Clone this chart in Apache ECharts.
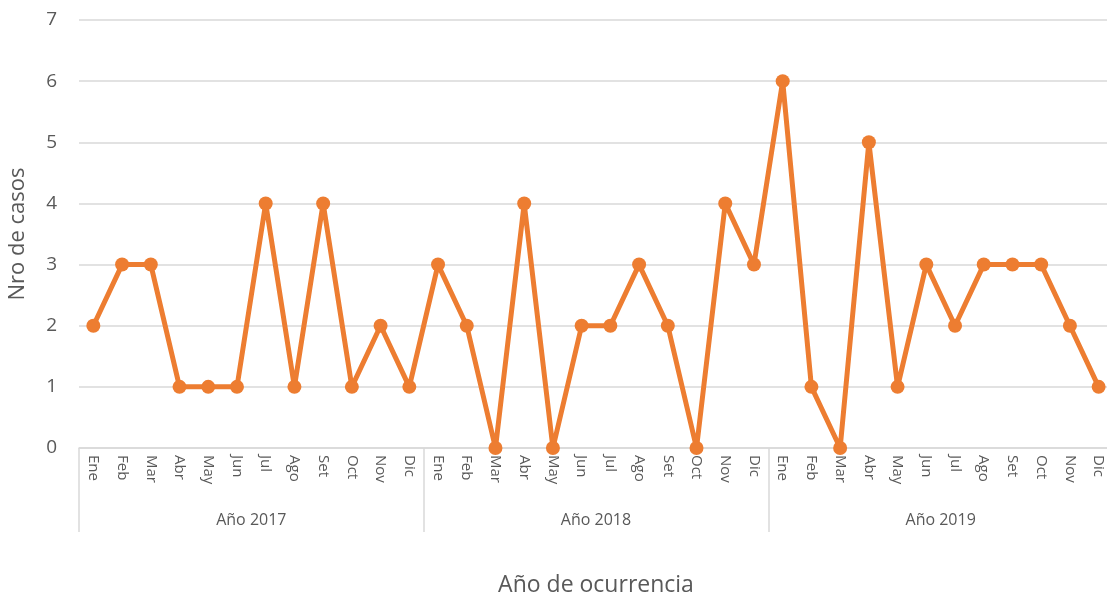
<!DOCTYPE html>
<html>
<head>
    <meta charset="utf-8"/>
    <title>Nro de casos</title>
    <script src="https://cdn.jsdelivr.net/npm/echarts@6/dist/echarts.min.js"></script>
    <style>
        html, body { margin: 0; padding: 0; background: #fff; }
    </style>
</head>
<body>
<div id="main" style="width: 1107px;height:599px;"></div>
<script type="text/javascript">
    // meses por año
    var meses = ['Ene', 'Feb', 'Mar', 'Abr', 'May', 'Jun', 'Jul', 'Ago', 'Set', 'Oct', 'Nov', 'Dic'];
    var anios = ['Año 2017', 'Año 2018', 'Año 2019'];
    var casos2017 = [2, 3, 3, 1, 1, 1, 4, 1, 4, 1, 2, 1];
    var casos2018 = [3, 2, 0, 4, 0, 2, 2, 3, 2, 0, 4, 3];
    var casos2019 = [6, 1, 0, 5, 1, 3, 2, 3, 3, 3, 2, 1];

    var categorias = [];
    anios.forEach(function () {
        meses.forEach(function (m) { categorias.push(m); });
    });
    var valores = casos2017.concat(casos2018, casos2019);

    var fuente = '"Open Sans", sans-serif';
    var gris = '#595959';

    var myChart = echarts.init(document.getElementById('main'));
    myChart.setOption({
        animation: false,
        grid: { left: 79, right: -6, top: 20, bottom: 151, outerBoundsMode: 'none', containLabel: false },
        xAxis: [
            {
                type: 'category',
                data: categorias,
                boundaryGap: true,
                axisLine: { lineStyle: { color: '#d9d9d9', width: 1.5 } },
                axisTick: { show: false },
                axisLabel: {
                    rotate: -90,
                    interval: 0,
                    margin: 7,
                    color: gris,
                    fontFamily: fuente,
                    fontSize: 15
                }
            },
            {
                type: 'category',
                data: anios,
                position: 'bottom',
                boundaryGap: true,
                axisLine: { show: false },
                axisTick: { show: true, length: 84, lineStyle: { color: '#d9d9d9', width: 1.5 } },
                axisLabel: {
                    margin: 64,
                    color: gris,
                    fontFamily: fuente,
                    fontSize: 16
                },
                name: 'Año de ocurrencia',
                nameLocation: 'middle',
                nameGap: 126,
                nameTextStyle: { color: gris, fontFamily: fuente, fontSize: 23 }
            }
        ],
        yAxis: {
            type: 'value',
            min: 0,
            max: 7,
            interval: 1,
            axisLine: { show: false },
            axisTick: { show: false },
            splitLine: { lineStyle: { color: '#d9d9d9', width: 1.5 } },
            axisLabel: { margin: 22, color: gris, fontFamily: fuente, fontSize: 19 },
            name: 'Nro de casos',
            nameLocation: 'middle',
            nameGap: 50,
            nameTextStyle: { color: gris, fontFamily: fuente, fontSize: 22 }
        },
        series: [
            {
                type: 'line',
                xAxisIndex: 0,
                data: valores,
                symbol: 'circle',
                symbolSize: 14,
                lineStyle: { color: '#ED7D31', width: 5 },
                itemStyle: { color: '#ED7D31' }
            }
        ]
    });
</script>
</body>
</html>
